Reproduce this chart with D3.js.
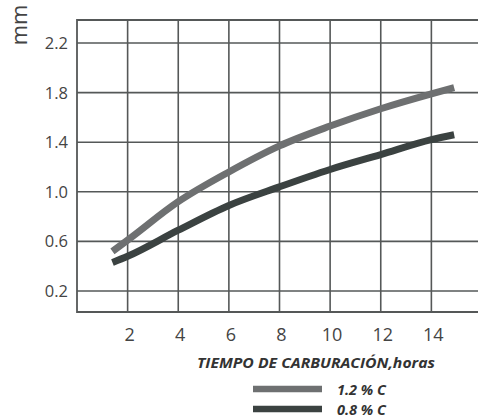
<!DOCTYPE html>
<html><head><meta charset="utf-8">
<script src="https://cdn.jsdelivr.net/npm/d3@7"></script>
<style>body{margin:0;background:#fff}svg{display:block}</style>
</head><body>
<svg id="c" width="478" height="418"></svg>
<script>
const hours = [1.4, 2, 4, 6, 8, 10, 12, 14, 14.9];
const c12 = [0.52, 0.61, 0.92, 1.16, 1.37, 1.53, 1.67, 1.79, 1.84];
const c08 = [0.43, 0.48, 0.69, 0.89, 1.04, 1.18, 1.30, 1.42, 1.46];
const xTicks = [2, 4, 6, 8, 10, 12, 14];
const yTicks = [0.2, 0.6, 1.0, 1.4, 1.8, 2.2];
const seriesNames = ["1.2 % C", "0.8 % C"];
const xTitle = "TIEMPO DE CARBURACIÓN,horas";
const yTitle = "mm";

const svg = d3.select("#c");
const x = d3.scaleLinear().domain([0, 16]).range([77, 482]);
const y = d3.scaleLinear().domain([0.2, 2.2]).range([291, 43]);
const plotTop = 20, plotBottom = 312;
const gridCol = "#555858";
const font = "'Open Sans', 'DejaVu Sans', sans-serif";

const g = svg.append("g");
g.selectAll("line.h").data(yTicks).join("line")
  .attr("x1", x(0)).attr("x2", 478)
  .attr("y1", d => y(d)).attr("y2", d => y(d))
  .attr("stroke", gridCol).attr("stroke-width", 1.6);
g.selectAll("line.v").data(xTicks).join("line")
  .attr("x1", d => x(d)).attr("x2", d => x(d))
  .attr("y1", plotTop).attr("y2", plotBottom)
  .attr("stroke", gridCol).attr("stroke-width", 1.6);
g.append("path")
  .attr("d", `M478,${plotTop}H${x(0)}V${plotBottom}H478`)
  .attr("fill", "none").attr("stroke", gridCol).attr("stroke-width", 1.8);

svg.selectAll("text.yl").data(yTicks).join("text")
  .attr("x", 68).attr("y", d => y(d)).attr("dy", "0.36em")
  .attr("text-anchor", "end").attr("font-family", font).attr("font-size", 16.5)
  .attr("fill", "#444").text(d => d.toFixed(1));
svg.selectAll("text.xl").data(xTicks).join("text")
  .attr("x", d => x(d) + 2).attr("y", 341)
  .attr("text-anchor", "middle").attr("font-family", font).attr("font-size", 18)
  .attr("fill", "#444").text(d => d);

svg.append("text").attr("transform", "translate(27,25) rotate(-90)")
  .attr("text-anchor", "middle").attr("font-family", font).attr("font-size", 22)
  .attr("fill", "#444").text(yTitle);
svg.append("text").attr("x", 197).attr("y", 368)
  .attr("font-family", font).attr("font-size", 14.5).attr("font-weight", "bold")
  .attr("font-style", "italic").attr("fill", "#333")
  .attr("textLength", 238).attr("lengthAdjust", "spacingAndGlyphs").text(xTitle);

const line = d3.line().x(d => x(d[0])).y(d => y(d[1])).curve(d3.curveMonotoneX);
const series = [
  {name: seriesNames[0], vals: c12, color: "#6e7071"},
  {name: seriesNames[1], vals: c08, color: "#3b4241"}
];
series.forEach(s => {
  svg.append("path").datum(hours.map((h, i) => [h, s.vals[i]]))
    .attr("d", line).attr("fill", "none").attr("stroke", s.color)
    .attr("stroke-width", 7).attr("stroke-linecap", "butt");
});

const leg = svg.selectAll("g.leg").data(series).join("g")
  .attr("transform", (d, i) => `translate(0,${389 + i * 20})`);
leg.append("line").attr("x1", 253).attr("x2", 322).attr("y1", 0).attr("y2", 0)
  .attr("stroke", d => d.color).attr("stroke-width", 6.5);
leg.append("text").attr("x", 337).attr("y", 6)
  .attr("font-family", font).attr("font-size", 14.5).attr("font-weight", "bold")
  .attr("font-style", "italic").attr("fill", "#333").text(d => d.name);
</script>
</body></html>
